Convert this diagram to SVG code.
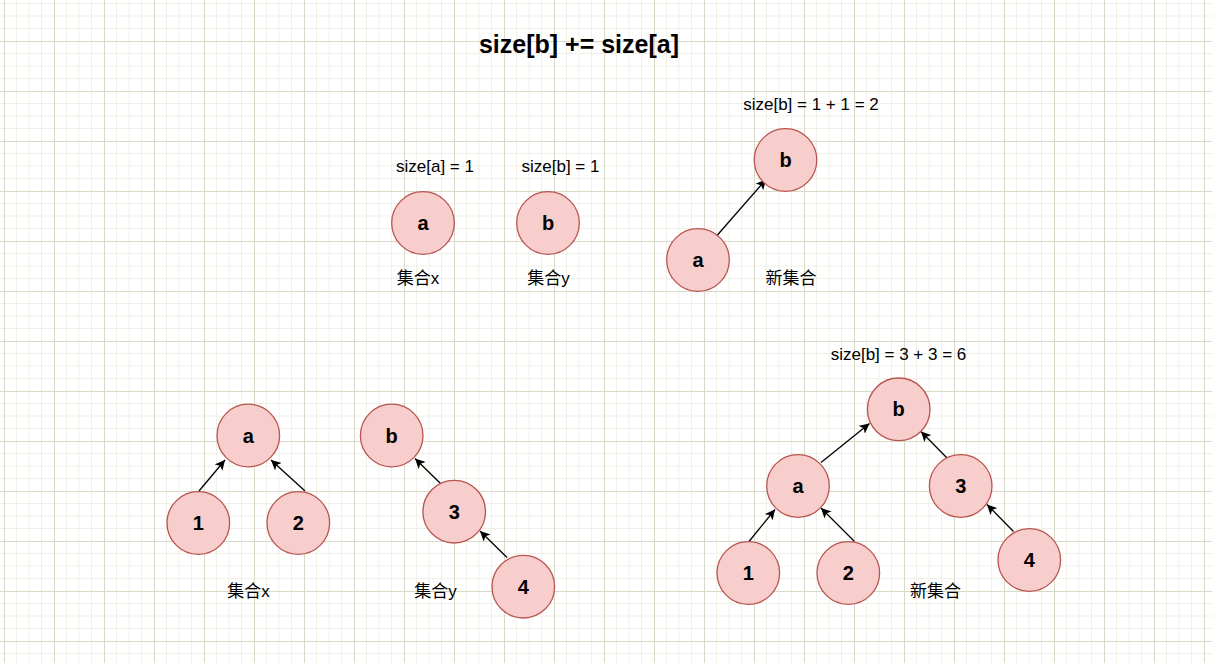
<svg xmlns="http://www.w3.org/2000/svg" width="1212" height="663" viewBox="0 0 1212 663">
<defs>
<pattern id="grid" width="50" height="50" patternUnits="userSpaceOnUse" x="4" y="-9">
<rect width="50" height="50" fill="#ffffff"/>
<path d="M12.5 0V50M25 0V50M37.5 0V50M0 12.5H50M0 25H50M0 37.5H50" stroke="#f0f0e8" stroke-width="1" fill="none"/>
<path d="M0.5 0V50M0 0.5H50" stroke="#d9d9c8" stroke-width="1" fill="none"/>
</pattern>
<marker id="arr" markerWidth="12" markerHeight="10" refX="10" refY="5" orient="auto" markerUnits="userSpaceOnUse">
<path d="M0 0L10 5L0 10L2.5 5Z" fill="#000"/>
</marker>
</defs>
<style>
.n circle{fill:#f8cecc;stroke:#b85450;stroke-width:1.3}
.n text{font-family:"Liberation Sans",Arial,sans-serif;font-weight:bold;font-size:20px;fill:#000;text-anchor:middle;dominant-baseline:central}
.lbl{font-family:"Liberation Sans",Arial,"Noto Sans CJK SC",sans-serif;font-size:17px;fill:#000;text-anchor:middle;dominant-baseline:central}
.e line{stroke:#000;stroke-width:1.3;marker-end:url(#arr)}
</style>
<rect width="1212" height="663" fill="url(#grid)"/>
<text x="579" y="44" font-family="'Liberation Sans',Arial,sans-serif" font-weight="bold" font-size="25" text-anchor="middle" dominant-baseline="central">size[b] += size[a]</text>

<g id="labels">
<text class="lbl" x="435" y="166">size[a] = 1</text>
<text class="lbl" x="560.5" y="166">size[b] = 1</text>
<text class="lbl" x="418" y="278">集合x</text>
<text class="lbl" x="548.5" y="278">集合y</text>
<text class="lbl" x="811" y="104">size[b] = 1 + 1 = 2</text>
<text class="lbl" x="791" y="278">新集合</text>
<text class="lbl" x="248.5" y="591">集合x</text>
<text class="lbl" x="435.5" y="591">集合y</text>
<text class="lbl" x="898.5" y="354">size[b] = 3 + 3 = 6</text>
<text class="lbl" x="935.5" y="591">新集合</text>
</g>

<g id="edges" class="e">
<line x1="717" y1="235.5" x2="766" y2="179.5"/>
<line x1="199" y1="491" x2="225" y2="460"/>
<line x1="305" y1="491" x2="271" y2="460"/>
<line x1="441" y1="484" x2="415" y2="458.5"/>
<line x1="507" y1="557.5" x2="480" y2="531"/>
<line x1="821" y1="462.5" x2="869.5" y2="423.5"/>
<line x1="947.5" y1="458.5" x2="921" y2="431.5"/>
<line x1="749" y1="541.5" x2="775" y2="509.5"/>
<line x1="854.5" y1="541.5" x2="821" y2="508"/>
<line x1="1013.5" y1="531.5" x2="987" y2="504.5"/>
</g>

<g id="n-a1" class="n"><circle cx="423" cy="223" r="31.3"/><text x="423" y="223">a</text></g>
<g id="n-b1" class="n"><circle cx="548" cy="223" r="31.3"/><text x="548" y="223">b</text></g>
<g id="n-b2" class="n"><circle cx="785.5" cy="160" r="31.3"/><text x="785.5" y="160">b</text></g>
<g id="n-a2" class="n"><circle cx="698" cy="260" r="31.3"/><text x="698" y="260">a</text></g>

<g id="n-a3" class="n"><circle cx="248.3" cy="435.5" r="31.3"/><text x="248.3" y="435.5">a</text></g>
<g id="n-1a" class="n"><circle cx="198.3" cy="523" r="31.3"/><text x="198.3" y="523">1</text></g>
<g id="n-2a" class="n"><circle cx="298.3" cy="523" r="31.3"/><text x="298.3" y="523">2</text></g>
<g id="n-b3" class="n"><circle cx="391.7" cy="435.5" r="31.3"/><text x="391.7" y="435.5">b</text></g>
<g id="n-3a" class="n"><circle cx="454.2" cy="511.7" r="31.3"/><text x="454.2" y="511.7">3</text></g>
<g id="n-4a" class="n"><circle cx="523.3" cy="586.7" r="31.3"/><text x="523.3" y="586.7">4</text></g>

<g id="n-b4" class="n"><circle cx="898.7" cy="409.3" r="31.3"/><text x="898.7" y="409.3">b</text></g>
<g id="n-a4" class="n"><circle cx="798" cy="486" r="31.3"/><text x="798" y="486">a</text></g>
<g id="n-3b" class="n"><circle cx="960.7" cy="486" r="31.3"/><text x="960.7" y="486">3</text></g>
<g id="n-1b" class="n"><circle cx="748.3" cy="573" r="31.3"/><text x="748.3" y="573">1</text></g>
<g id="n-2b" class="n"><circle cx="848.3" cy="573" r="31.3"/><text x="848.3" y="573">2</text></g>
<g id="n-4b" class="n"><circle cx="1029.3" cy="560" r="31.3"/><text x="1029.3" y="560">4</text></g>
</svg>
